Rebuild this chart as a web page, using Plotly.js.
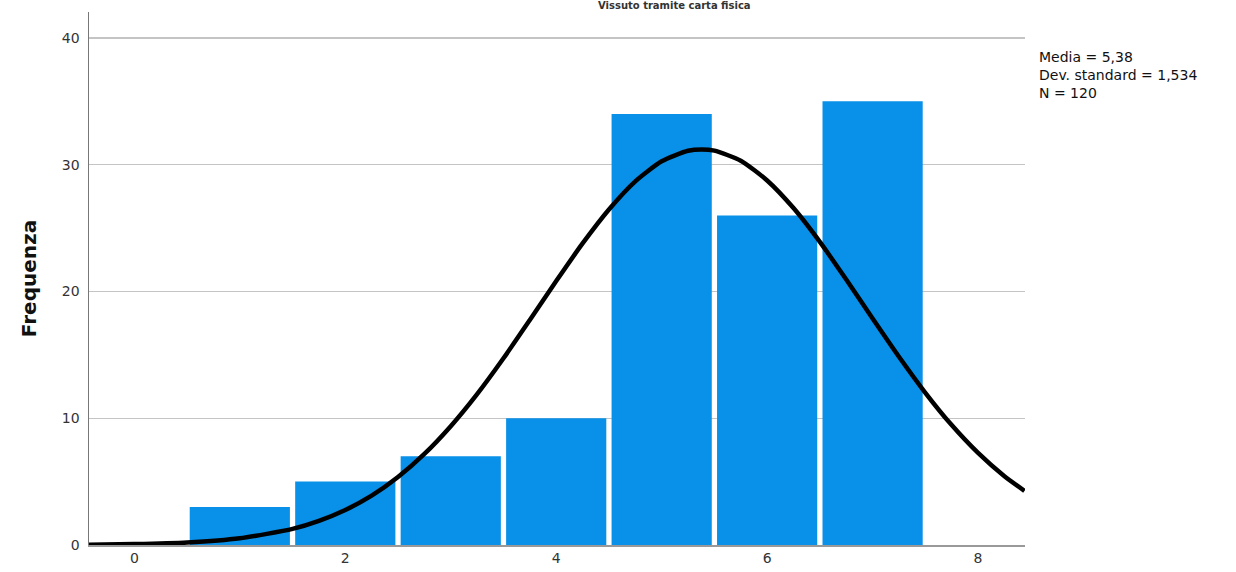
<!DOCTYPE html>
<html>
<head>
<meta charset="utf-8">
<script src="https://cdn.plot.ly/plotly-3.0.1.min.js"></script>
<style>html,body{margin:0;padding:0;background:#fff;}#chart{width:1236px;height:572px;}</style>
</head>
<body>
<div id="chart"></div>
<script>
// Histogram bins (centres) and frequencies
const binCenters = [1, 2, 3, 4, 5, 6, 7];
const frequencies = [3, 5, 7, 10, 34, 26, 35];
// Fitted normal curve
const curveX = [-0.43, 0, 0.5, 1, 1.5, 1.75, 2, 2.25, 2.5, 2.75, 3, 3.25, 3.5, 3.75, 4, 4.25, 4.5, 4.75, 5, 5.25, 5.38, 5.5, 5.75, 6, 6.25, 6.5, 6.75, 7, 7.25, 7.5, 7.75, 8, 8.25, 8.44];
const curveY = [0.02, 0.07, 0.2, 0.53, 1.27, 1.9, 2.76, 3.89, 5.36, 7.18, 9.37, 11.9, 14.73, 17.75, 20.82, 23.79, 26.47, 28.69, 30.27, 31.1, 31.21, 31.11, 30.32, 28.76, 26.58, 23.91, 20.94, 17.87, 14.85, 12.01, 9.46, 7.26, 5.42, 4.27];
const statsLines = ["Media = 5,38", "Dev. standard = 1,534", "N = 120"];
const yTitle = "Frequenza";
const chartTitle = "Vissuto tramite carta fisica";

const traces = [
  {type: 'bar', x: binCenters, y: frequencies, marker: {color: '#0990e8', line: {width: 0}}, hoverinfo: 'x+y'},
  {type: 'scatter', mode: 'lines', x: curveX, y: curveY, line: {color: '#000', width: 4.5, shape: 'spline', smoothing: 0.6}, hoverinfo: 'skip'}
];

const layout = {
  width: 1236, height: 572,
  margin: {l: 89, r: 211, t: 12, b: 27},
  paper_bgcolor: '#fff', plot_bgcolor: '#fff',
  showlegend: false,
  bargap: 0.05,
  font: {family: 'DejaVu Sans, sans-serif', color: '#333'},
  xaxis: {
    range: [-0.43, 8.445], tickvals: [0, 2, 4, 6, 8], ticktext: ['0', '2', '4', '6', '8'],
    showgrid: false, zeroline: false, showline: true, linecolor: '#999', linewidth: 1.5,
    ticks: '', tickfont: {size: 14, color: '#333'}, fixedrange: true
  },
  yaxis: {
    range: [0, 42.05], tickvals: [0, 10, 20, 30, 40],
    showgrid: true, gridcolor: '#c4c4c4', gridwidth: 1.2, zeroline: false,
    showline: true, linecolor: '#777', linewidth: 1.5,
    ticks: 'outside', ticklen: 5, tickcolor: '#fff',
    tickfont: {size: 14, color: '#333'},
    title: {text: '<b>' + yTitle + '</b>', font: {size: 20, color: '#111'}, standoff: 20},
    fixedrange: true
  },
  annotations: [
    {xref: 'paper', yref: 'paper', x: 1.013, y: 0.935, xanchor: 'left', yanchor: 'top', align: 'left', showarrow: false,
     text: statsLines.join('<br>'), font: {size: 14, color: '#111', family: 'DejaVu Sans, sans-serif'}},
    {xref: 'paper', yref: 'paper', x: 0.626, y: 1, yshift: 0, xanchor: 'center', yanchor: 'bottom', showarrow: false,
     text: '<b>' + chartTitle + '</b>', font: {size: 10, color: '#333'}, borderpad: 0}
  ]
};

Plotly.newPlot('chart', traces, layout, {displayModeBar: false, staticPlot: true});
</script>
</body>
</html>
